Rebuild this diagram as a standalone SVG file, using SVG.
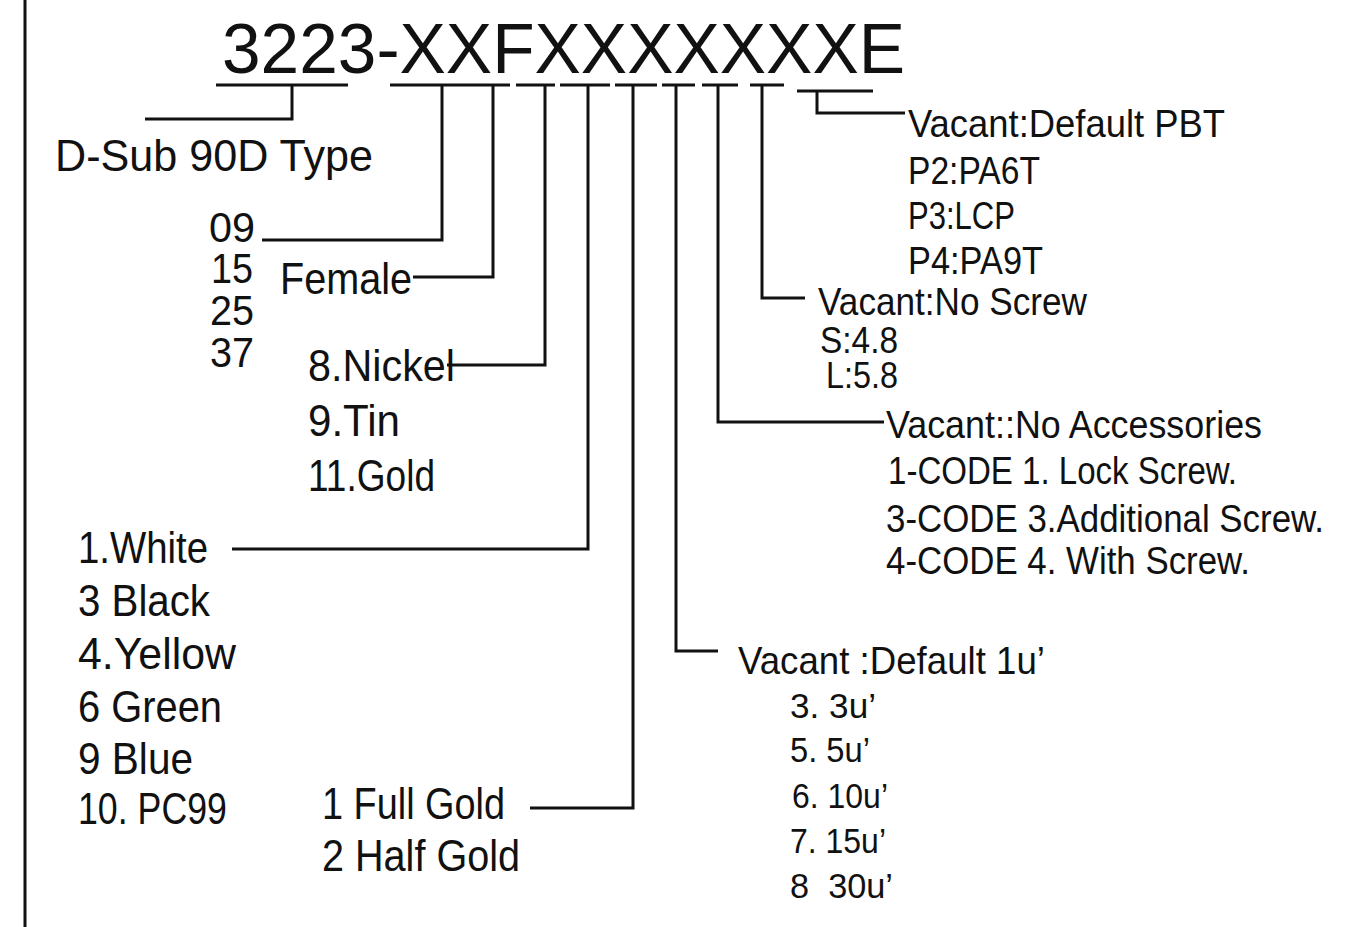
<svg xmlns="http://www.w3.org/2000/svg" width="1358" height="927" viewBox="0 0 1358 927">
<style>
text{font-family:"Liberation Sans",Arial,sans-serif;fill:#111;}
.t{font-size:71px;}
.l{font-size:45px;}
.p{font-size:42px;}
.r{font-size:39px;}
.q{font-size:36px;}
.s{font-size:35px;}
.c{fill:none;stroke:#111;stroke-width:3;stroke-linecap:butt;}
</style>
<rect width="1358" height="927" fill="#fff"/>
<line class="c" x1="25" y1="0" x2="25" y2="927"/>
<g id="title"><text class="t" x="222" y="73" textLength="683" lengthAdjust="spacingAndGlyphs">3223-XXFXXXXXXXE</text></g>
<g id="connectors">
<path class="c" d="M216 85H348M390 85H510M516 85H555M560 85H610M615 85H657M662 85H695M702 85H738M750 85H784M797 91H873"/>
<path class="c" d="M292 85V119H145"/>
<path class="c" d="M442 85V240H262"/>
<path class="c" d="M493 85V277H413"/>
<path class="c" d="M545 85V365H447"/>
<path class="c" d="M588 85V549H232"/>
<path class="c" d="M633 85V808H530"/>
<path class="c" d="M676 85V651H718"/>
<path class="c" d="M718 85V422H884"/>
<path class="c" d="M762 85V298H805"/>
<path class="c" d="M817 91V113H905"/>
</g>
<g id="type"><text class="l" x="55" y="171" textLength="318" lengthAdjust="spacingAndGlyphs">D-Sub 90D Type</text></g>
<g id="pins">
<text class="p" x="209" y="242" textLength="46" lengthAdjust="spacingAndGlyphs">09</text>
<text class="p" x="211" y="283" textLength="42" lengthAdjust="spacingAndGlyphs">15</text>
<text class="p" x="210" y="325" textLength="44" lengthAdjust="spacingAndGlyphs">25</text>
<text class="p" x="210" y="367" textLength="44" lengthAdjust="spacingAndGlyphs">37</text>
</g>
<g id="gender"><text class="l" x="280" y="294" textLength="132" lengthAdjust="spacingAndGlyphs">Female</text></g>
<g id="plating">
<text class="l" x="308" y="381" textLength="147" lengthAdjust="spacingAndGlyphs">8.Nickel</text>
<text class="l" x="308" y="436" textLength="92" lengthAdjust="spacingAndGlyphs">9.Tin</text>
<text class="l" x="308" y="491" textLength="127" lengthAdjust="spacingAndGlyphs">11.Gold</text>
</g>
<g id="color">
<text class="l" x="78" y="563" textLength="130" lengthAdjust="spacingAndGlyphs">1.White</text>
<text class="l" x="78" y="616" textLength="132" lengthAdjust="spacingAndGlyphs">3 Black</text>
<text class="l" x="78" y="669" textLength="158" lengthAdjust="spacingAndGlyphs">4.Yellow</text>
<text class="l" x="78" y="722" textLength="144" lengthAdjust="spacingAndGlyphs">6 Green</text>
<text class="l" x="78" y="774" textLength="115" lengthAdjust="spacingAndGlyphs">9 Blue</text>
<text class="l" x="78" y="824" textLength="149" lengthAdjust="spacingAndGlyphs">10. PC99</text>
</g>
<g id="gold">
<text class="l" x="322" y="819" textLength="183" lengthAdjust="spacingAndGlyphs">1 Full Gold</text>
<text class="l" x="322" y="871" textLength="198" lengthAdjust="spacingAndGlyphs">2 Half Gold</text>
</g>
<g id="thickness">
<text class="r" x="738" y="674" textLength="307" lengthAdjust="spacingAndGlyphs">Vacant :Default 1u’</text>
<text class="s" x="790" y="718" textLength="86" lengthAdjust="spacingAndGlyphs">3. 3u’</text>
<text class="s" x="790" y="762" textLength="80" lengthAdjust="spacingAndGlyphs">5. 5u’</text>
<text class="s" x="792" y="808" textLength="96" lengthAdjust="spacingAndGlyphs">6. 10u’</text>
<text class="s" x="790" y="853" textLength="96" lengthAdjust="spacingAndGlyphs">7. 15u’</text>
<text class="s" x="790" y="898" textLength="103" lengthAdjust="spacingAndGlyphs" xml:space="preserve">8  30u’</text>
</g>
<g id="accessories">
<text class="r" x="886" y="438" textLength="376" lengthAdjust="spacingAndGlyphs">Vacant::No Accessories</text>
<text class="r" x="888" y="484" textLength="349" lengthAdjust="spacingAndGlyphs">1-CODE 1. Lock Screw.</text>
<text class="r" x="886" y="532" textLength="438" lengthAdjust="spacingAndGlyphs">3-CODE 3.Additional Screw.</text>
<text class="r" x="886" y="574" textLength="364" lengthAdjust="spacingAndGlyphs">4-CODE 4. With Screw.</text>
</g>
<g id="screw">
<text class="r" x="818" y="315" textLength="269" lengthAdjust="spacingAndGlyphs">Vacant:No Screw</text>
<text class="q" x="820" y="353" textLength="78" lengthAdjust="spacingAndGlyphs">S:4.8</text>
<text class="q" x="826" y="388" textLength="72" lengthAdjust="spacingAndGlyphs">L:5.8</text>
</g>
<g id="material">
<text class="r" x="908" y="137" textLength="317" lengthAdjust="spacingAndGlyphs">Vacant:Default PBT</text>
<text class="r" x="908" y="184" textLength="132" lengthAdjust="spacingAndGlyphs">P2:PA6T</text>
<text class="r" x="908" y="229" textLength="107" lengthAdjust="spacingAndGlyphs">P3:LCP</text>
<text class="r" x="908" y="274" textLength="135" lengthAdjust="spacingAndGlyphs">P4:PA9T</text>
</g>
</svg>
